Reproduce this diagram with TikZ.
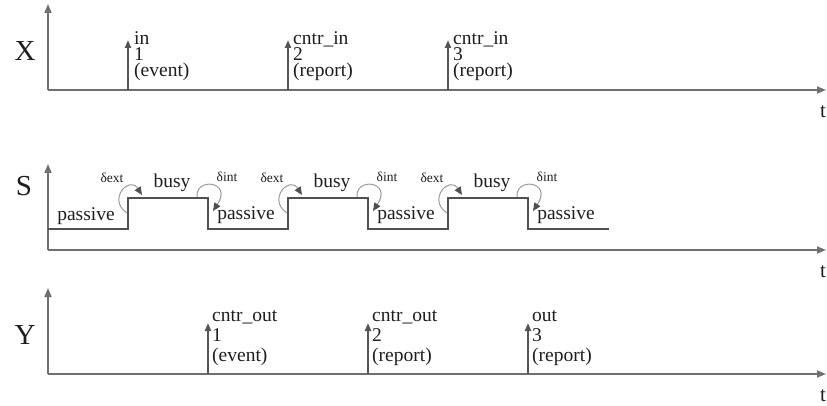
\documentclass[tikz,border=0pt]{standalone}
\usepackage{fontspec}
\setmainfont{Liberation Serif}
\usetikzlibrary{arrows.meta}
\definecolor{axisgray}{HTML}{707070}
\definecolor{evtgray}{HTML}{555555}
\definecolor{siggray}{HTML}{505050}
\definecolor{loopgray}{HTML}{9A9A9A}
\definecolor{inkblack}{HTML}{1E1E1E}
\begin{document}
\begin{tikzpicture}[x=1pt,y=-1pt,
  axisline/.style={draw=axisgray, line width=1.6pt, -{Triangle[length=9pt,width=7pt]}},
  evtline/.style={draw=evtgray, line width=2pt, -{Triangle[length=8pt,width=6pt]}},
  signal/.style={draw=siggray, line width=2.4pt, line join=miter},
  loopline/.style={draw=loopgray, line width=1pt, -{Triangle[length=8pt,width=7pt,color=siggray]}},
  axname/.style={text=inkblack, font=\fontsize{29}{29}\selectfont, inner sep=0pt},
  tname/.style={text=inkblack, font=\fontsize{21}{21}\selectfont, inner sep=0pt},
  evlabel/.style={text=inkblack, align=left, inner sep=0pt, anchor=base west},
  state/.style={text=inkblack, font=\fontsize{19.5}{19.5}\selectfont, inner sep=0pt},
  delta/.style={text=inkblack, font=\fontsize{13.5}{13.5}\selectfont, inner sep=0pt}]
\useasboundingbox (0,0) rectangle (827,406);

% ---- axes ----
\coordinate (xo) at (48,90);   \coordinate (xup) at (48,4);   \coordinate (xright) at (826,90);
\coordinate (so) at (48,250);  \coordinate (sup) at (48,164); \coordinate (sright) at (826,250);
\coordinate (yo) at (48,374);  \coordinate (yup) at (48,288); \coordinate (yright) at (826,374);
\foreach \o/\u/\r in {xo/xup/xright, so/sup/sright, yo/yup/yright}{
  \draw[axisline] (\o) -- (\u);
  \draw[axisline] (\o) -- (\r);
}
\node[axname] (lx) at (25,51) {X};
\node[axname] (ls) at (24,186) {S};
\node[axname] (ly) at (25,335) {Y};
\node[tname] (tx) at (823,112) {t};
\node[tname] (ts) at (823,272) {t};
\node[tname] (ty) at (823,396) {t};

% ---- input events (label anchored at the baseline of its last line) ----
\foreach \x/\n in {128/1, 288/2, 448/3}{
  \coordinate (xb\n) at (\x,90);
  \coordinate (xt\n) at (\x,40);
  \draw[evtline] (xb\n) -- (xt\n);
}
\begin{scope}[evlabel/.append style={font=\fontsize{19.5}{16}\selectfont}]
  \node[evlabel] (xl1) at (134,77) {in\\1\\(event)};
  \node[evlabel] (xl2) at (293,77) {cntr\_in\\2\\(report)};
  \node[evlabel] (xl3) at (453,77) {cntr\_in\\3\\(report)};
\end{scope}

% ---- state trajectory ----
\draw[signal] (48,229) -- (128,229) -- (128,198) -- (208,198) -- (208,229)
  -- (288,229) -- (288,198) -- (368,198) -- (368,229)
  -- (448,229) -- (448,198) -- (528,198) -- (528,229) -- (609,229);
\node[state] (p0) at (86,216) {passive};
\foreach \u/\n in {128/1, 288/2, 448/3}{
  \coordinate (ea\n) at (\u-1,213);
  \coordinate (eb\n) at (\u+14,195);
  \draw[loopline] (ea\n) .. controls (\u-21,200) and (\u+1,175) .. (eb\n);
  \node[delta] (de\n) at (\u-16,178) {δext};
  \node[state] (b\n) at (\u+44,183) {busy};
}
\foreach \d/\n in {208/1, 368/2, 528/3}{
  \coordinate (ia\n) at (\d-11,197);
  \coordinate (ib\n) at (\d+5,211);
  \draw[loopline] (ia\n) .. controls (\d-13,177) and (\d+25,181) .. (ib\n);
  \node[delta] (di\n) at (\d+19,177) {δint};
  \node[state] (p\n) at (\d+38,215) {passive};
}

% ---- output events ----
\foreach \x/\n in {208/1, 368/2, 528/3}{
  \coordinate (yb\n) at (\x,374);
  \coordinate (yt\n) at (\x,323);
  \draw[evtline] (yb\n) -- (yt\n);
}
\begin{scope}[evlabel/.append style={font=\fontsize{19.5}{20}\selectfont}]
  \node[evlabel] (yl1) at (212,361) {cntr\_out\\1\\(event)};
  \node[evlabel] (yl2) at (372,361) {cntr\_out\\2\\(report)};
  \node[evlabel] (yl3) at (532,361) {out\\3\\(report)};
\end{scope}
\end{tikzpicture}
\end{document}
